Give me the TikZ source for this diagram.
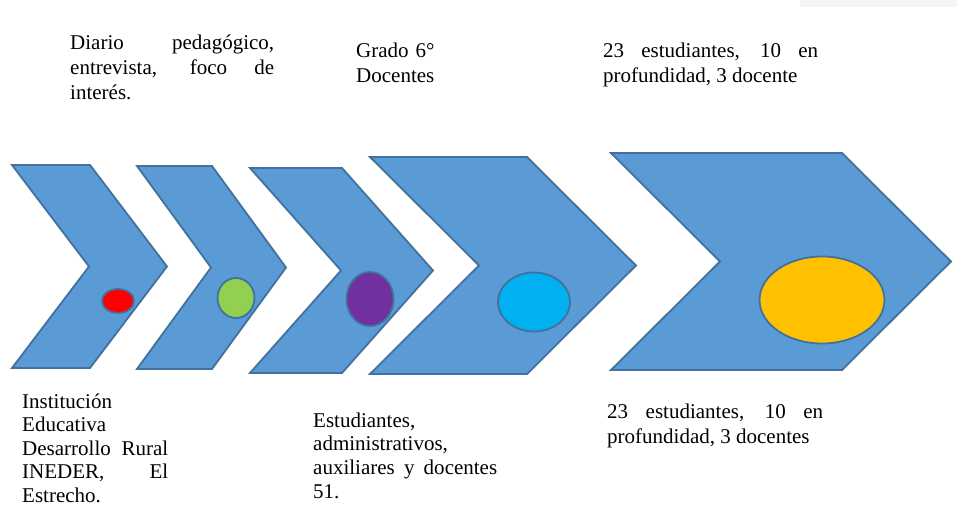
\documentclass[tikz,border=0pt]{standalone}
\usepackage{fontspec}
\setmainfont{Liberation Serif}
\usetikzlibrary{shapes.geometric}
\definecolor{chevfill}{HTML}{5B9BD5}
\definecolor{chevline}{HTML}{41719C}
\definecolor{dotred}{HTML}{FF0000}
\definecolor{dotgreen}{HTML}{92D050}
\definecolor{dotpurple}{HTML}{7030A0}
\definecolor{dotcyan}{HTML}{00B0F0}
\definecolor{dotyellow}{HTML}{FFC000}
\definecolor{faintband}{HTML}{F7F5F2}
\tikzset{
  chev/.style={fill=chevfill, draw=chevline, line width=1.8pt, line join=miter},
  dot/.style={ellipse, draw=chevline, line width=1.8pt, inner sep=0pt},
  txt/.style={anchor=base west, inner sep=0pt, font=\fontsize{21}{25}\selectfont},
}
\begin{document}
\begin{tikzpicture}[x=1pt, y=-1pt]
\useasboundingbox (0,0) rectangle (957,521);
\fill[faintband] (800,0) rectangle (957,7);
% chevrons
\draw[chev] (12,165) -- (90,165) -- (167,266.5) -- (90,368) -- (12,368) -- (89,266.5) -- cycle;
\draw[chev] (137,166) -- (212,166) -- (286,267.5) -- (212,369) -- (137,369) -- (211,267.5) -- cycle;
\draw[chev] (250,168) -- (342,168) -- (433,270.5) -- (342,373) -- (250,373) -- (341,270.5) -- cycle;
\draw[chev] (370,157) -- (527,157) -- (636,265.5) -- (527,374) -- (370,374) -- (479,265.5) -- cycle;
\draw[chev] (611,153) -- (842,153) -- (951,261.5) -- (842,370) -- (611,370) -- (720,261.5) -- cycle;
% ellipses
\node[dot, fill=dotred, minimum width=32pt, minimum height=24pt] (e1) at (118,301) {};
\node[dot, fill=dotgreen, minimum width=37pt, minimum height=40pt] (e2) at (236,298) {};
\node[dot, fill=dotpurple, minimum width=47pt, minimum height=54pt] (e3) at (370,299) {};
\node[dot, fill=dotcyan, minimum width=72pt, minimum height=59pt] (e4) at (534,302) {};
\node[dot, fill=dotyellow, minimum width=125pt, minimum height=87pt] (e5) at (822,300) {};
% texts top
\node[txt, text width=204pt, align=justify] (t1) at (70,50)
  {Diario pedagógico,\linebreak entrevista, foco de\linebreak interés.};
\node[txt, text width=120pt, align=left] (t2) at (356,58)
  {Grado 6°\newline Docentes};
\node[txt, text width=215pt, align=justify] (t3) at (603,58)
  {23 estudiantes, 10 en\linebreak profundidad, 3 docente};
% texts bottom
\node[txt, font=\fontsize{21}{23.5}\selectfont, text width=146pt, align=justify] (b1) at (22,408)
  {Institución\newline Educativa\newline Desarrollo Rural\linebreak INEDER, El\linebreak Estrecho.};
\node[txt, font=\fontsize{21}{23.7}\selectfont, text width=184pt, align=justify] (b2) at (313,427)
  {Estudiantes,\newline administrativos,\newline auxiliares y docentes\linebreak 51.};
\node[txt, text width=216pt, align=justify] (b3) at (607,418)
  {23 estudiantes, 10 en\linebreak profundidad, 3 docentes};
\end{tikzpicture}
\end{document}
